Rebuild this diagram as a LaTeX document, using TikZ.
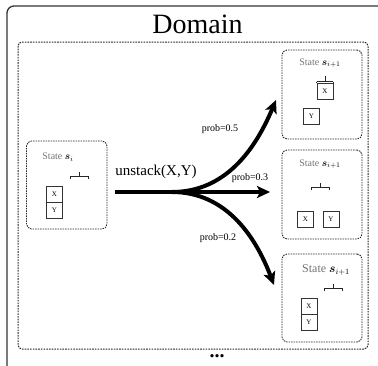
\documentclass[tikz,border=0pt]{standalone}
\usepackage{fontspec}
\setmainfont{Liberation Serif}
\usepackage{amsmath,bm}
\usetikzlibrary{arrows.meta}
\tikzset{
  frameline/.style={draw=black!80, line width=1.3pt, rounded corners=7pt},
  domainbox/.style={draw=black!85, dash pattern=on 1.6pt off 1.1pt, line width=1pt, rounded corners=4pt},
  statebox/.style={draw=black!85, dash pattern=on 1.5pt off 1pt, line width=0.9pt, rounded corners=5pt},
  blockbox/.style={draw=black!80, line width=0.6pt, minimum width=16pt, minimum height=16pt, inner sep=0pt, font=\fontsize{7}{8}\selectfont},
  gripline/.style={draw=black!85, line width=0.7pt},
  bigarrow/.style={line width=4pt, -{Stealth[length=13pt,width=12pt,inset=3pt]}},
  statelabel/.style={text=black!55, font=\fontsize{10}{11}\selectfont, inner sep=0pt},
  problabel/.style={font=\fontsize{10}{11}\selectfont, inner sep=0pt},
}
\newcommand{\gripper}[2]{%
  \draw[gripline] (#1-9,#2+3) -- (#1-9,#2) -- (#1+9,#2) -- (#1+9,#2+3);
  \draw[gripline] (#1,#2) -- (#1,#2-4);}
\begin{document}
\begin{tikzpicture}[x=1pt,y=-1pt]
\useasboundingbox (0,0) rectangle (378,365);
\clip (0,0) rectangle (378,365);
% outer frame
\draw[frameline] (7,400) -- (7,6) -- (400,6);
\node[font=\fontsize{28}{30}\selectfont, anchor=base, inner sep=0pt] (title) at (197.5,33) {Domain};
% inner domain
\draw[domainbox] (18,42) rectangle (368,349);
\node[font=\fontsize{20}{20}\selectfont\bfseries, inner sep=0pt] (dots) at (217,356) {...};
% left state
\node[statebox, minimum width=80.5pt, minimum height=88pt, inner sep=0pt] (si) at (66.75,185) {};
\node[statelabel] (silab) at (58,157) {State \textcolor{black}{$\bm{s}_i$}};
\gripper{79}{176}
\node[blockbox] (sx) at (54.5,194) {X};
\node[blockbox] (sy) at (54.5,210) {Y};
% top right state
\node[statebox, minimum width=80pt, minimum height=89pt, inner sep=0pt] (s1) at (322,94.5) {};
\node[statelabel] (s1lab) at (320,63) {State \textcolor{black}{$\bm{s}_{i+1}$}};
\node[blockbox] (s1x) at (325,91.5) {X};
\draw[gripline] (s1x.north west) ++(0,-1.6) -- ++(16,0);
\draw[gripline] (s1x.north west) ++(0,-1.6) -- (s1x.north west);
\draw[gripline] (s1x.north east) ++(0,-1.6) -- (s1x.north east);
\draw[gripline] (325,82) -- (325,76);
\node[blockbox] (s1y) at (311.5,116) {Y};
% middle right state
\node[statebox, minimum width=80pt, minimum height=89pt, inner sep=0pt] (s2) at (322,194.5) {};
\node[statelabel] (s2lab) at (320,164) {State \textcolor{black}{$\bm{s}_{i+1}$}};
\gripper{320}{187}
\node[blockbox] (s2x) at (305.5,219) {X};
\node[blockbox] (s2y) at (331,219) {Y};
% bottom right state
\node[statebox, minimum width=80pt, minimum height=88pt, inner sep=0pt] (s3) at (322,298) {};
\node[statelabel, font=\fontsize{12}{13}\selectfont] (s3lab) at (326,270) {State \textcolor{black}{$\bm{s}_{i+1}$}};
\gripper{333.5}{288}
\node[blockbox] (s3x) at (309,306.5) {X};
\node[blockbox] (s3y) at (309,322.5) {Y};
% arrows
\coordinate (start) at (115,192);
\coordinate (fork) at (172,192);
\coordinate (t1) at (276,100);
\coordinate (t2) at (270,192);
\coordinate (t3) at (274,285);
\draw[line width=4pt] (start) -- (fork);
\draw[bigarrow] (fork) .. controls (225,192) and (255,150) .. (t1);
\draw[bigarrow] (fork) -- (t2);
\draw[bigarrow] (fork) .. controls (225,192) and (255,235) .. (t3);
\node[font=\fontsize{15}{16}\selectfont, inner sep=0pt] (act) at (156,172) {unstack(X,Y)};
\node[problabel] (p1) at (220,129) {prob=0.5};
\node[problabel] (p2) at (250,178) {prob=0.3};
\node[problabel] (p3) at (218,238.5) {prob=0.2};
\end{tikzpicture}
\end{document}
